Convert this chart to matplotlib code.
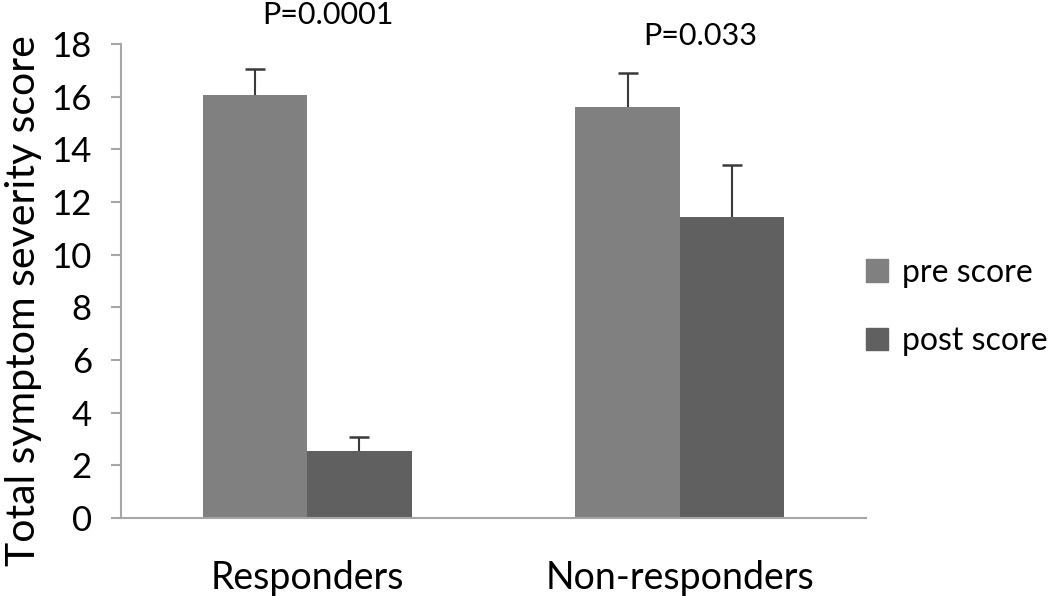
"""Pre/post total symptom severity score by responder group"""

import matplotlib.pyplot as plt
import numpy as np
from matplotlib.patches import Patch

groups = ["Responders", "Non-responders"]
pre_score = [16.05, 15.6]
post_score = [2.54, 11.42]
pre_err = [1.0, 1.29]
post_err = [0.54, 1.99]
p_values = ["P=0.0001", "P=0.033"]
p_heights = [19.1, 18.3]

plt.rcParams["font.family"] = ["Lato", "DejaVu Sans"]

fig = plt.figure(figsize=(10.5, 5.96), dpi=100)
ax = fig.add_axes([0.1152, 0.1309, 0.7096, 0.7951])

x = np.arange(len(groups))
width = 0.28
pre_col = "#808080"
post_col = "#606060"
ax.bar(x - width / 2, pre_score, width, color=pre_col, zorder=2)
ax.bar(x + width / 2, post_score, width, color=post_col, zorder=2)

# upper half error bars only, cap on top
for xs, vals, errs in [(x - width / 2, pre_score, pre_err), (x + width / 2, post_score, post_err)]:
    tops = np.array(vals) + np.array(errs)
    ax.vlines(xs, vals, tops, color="#3a3a3a", lw=1.5, zorder=3)
    ax.plot(xs, tops, ls="none", marker="_", ms=15, mew=1.8, color="#3a3a3a", zorder=3)

for xi, txt, h in zip(x, p_values, p_heights):
    ax.text(xi + 0.055, h, txt, ha="center", va="center", fontsize=22, clip_on=False)

ax.set_xlim(-0.5, 1.5)
ax.set_ylim(0, 18)
ax.set_yticks(range(0, 19, 2))
ax.set_xticks(x)
ax.set_xticklabels(groups, fontsize=27)
ax.tick_params(axis="x", length=0, pad=30)
ax.tick_params(axis="y", labelsize=25, length=7, width=1.5, color="#a6a6a6", pad=14)
ax.set_ylabel("Total symptom severity score", fontsize=29.5)
ax.yaxis.set_label_coords(-0.106, 0.458)
for side in ["top", "right"]:
    ax.spines[side].set_visible(False)
for side in ["left", "bottom"]:
    ax.spines[side].set_color("#a6a6a6")
    ax.spines[side].set_linewidth(1.5)

handles = [Patch(color=pre_col, label="pre score"), Patch(color=post_col, label="post score")]
fig.legend(handles=handles, loc="center left", bbox_to_anchor=(0.797, 0.485), frameon=False,
           fontsize=23, handlelength=0.7, handleheight=0.7, handletextpad=0.45, labelspacing=1.2)

fig.savefig("out.png", dpi=100)
